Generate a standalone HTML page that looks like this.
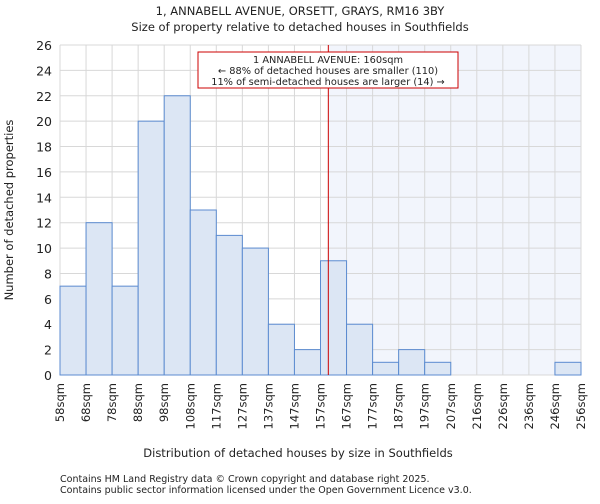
<!DOCTYPE html>
<html><head><meta charset="utf-8"><style>
body{margin:0;background:#fff;font-family:"DejaVu Sans","Liberation Sans",sans-serif;}
svg text{font-family:"DejaVu Sans","Liberation Sans",sans-serif;fill:#222}
</style></head><body>
<svg id="c" width="600" height="500" xmlns="http://www.w3.org/2000/svg">
<text x="300" y="15" text-anchor="middle" font-size="11.5">1, ANNABELL AVENUE, ORSETT, GRAYS, RM16 3BY</text>
<text x="300" y="31" text-anchor="middle" font-size="11.5">Size of property relative to detached houses in Southfields</text>
<text x="298" y="457" text-anchor="middle" font-size="11.5">Distribution of detached houses by size in Southfields</text>
<text transform="translate(13,210) rotate(-90)" text-anchor="middle" font-size="11.5">Number of detached properties</text>
<text x="60" y="482" font-size="9.5">Contains HM Land Registry data © Crown copyright and database right 2025.</text>
<text x="60" y="493" font-size="9.5">Contains public sector information licensed under the Open Government Licence v3.0.</text>
</svg>
<script>
const binLabels=["58sqm","68sqm","78sqm","88sqm","98sqm","108sqm","117sqm","127sqm","137sqm","147sqm","157sqm","167sqm","177sqm","187sqm","197sqm","207sqm","216sqm","226sqm","236sqm","246sqm","256sqm"];
const binEdges=[58,68,78,88,98,108,117,127,137,147,157,167,177,187,197,207,216,226,236,246,256];
const counts=[7,12,7,20,22,13,11,10,4,2,9,4,1,2,1,0,0,0,0,1];
const yTicks=[0,2,4,6,8,10,12,14,16,18,20,22,24,26];
const markerValue=160;
const annotationLines=["1 ANNABELL AVENUE: 160sqm","← 88% of detached houses are smaller (110)","11% of semi-detached houses are larger (14) →"];
const L=60,R=581,T=45,B=375,yMax=26;
const svg=document.getElementById('c');
const NS='http://www.w3.org/2000/svg';
function mk(t,a){const e=document.createElementNS(NS,t);for(const k in a)e.setAttribute(k,a[k]);svg.appendChild(e);return e;}
const bw=(R-L)/counts.length;
function xi(i){return L+i*bw;}
function xv(v){for(let i=0;i<binEdges.length-1;i++){if(v<=binEdges[i+1])return xi(i)+(v-binEdges[i])/(binEdges[i+1]-binEdges[i])*bw;}return R;}
function y(v){return B-v/yMax*(B-T);}
const mx=xv(markerValue);
let e=mk('rect',{x:mx,y:T,width:R-mx,height:B-T,fill:'#f2f5fc'});


yTicks.forEach(t=>{let g=mk('line',{x1:L,x2:R,y1:y(t),y2:y(t),stroke:'#d8d8d8','stroke-width':1});


let tx=mk('text',{x:L-8,y:y(t)+5,'text-anchor':'end','font-size':12.5});tx.textContent=t;

});
binLabels.forEach((lb,i)=>{let g=mk('line',{x1:xi(i),x2:xi(i),y1:T,y2:B,stroke:'#d8d8d8','stroke-width':1});


let tx=mk('text',{transform:`translate(${xi(i)+4},${B+8}) rotate(-90)`,'text-anchor':'end','font-size':11.5});tx.textContent=lb;

});
counts.forEach((c,i)=>{if(c<=0)return;let r=mk('rect',{x:xi(i),y:y(c),width:bw,height:B-y(c),fill:'#dce6f4',stroke:'#5b8bd0','stroke-width':1});

});
e=mk('line',{x1:mx,x2:mx,y1:T,y2:B,stroke:'#cc0000','stroke-width':1});


e=mk('rect',{x:198,y:52,width:260,height:36,fill:'#fff',stroke:'#cc0000','stroke-width':1});


annotationLines.forEach((s,i)=>{let t=mk('text',{x:328,y:63+i*11,'text-anchor':'middle','font-size':9.8});t.textContent=s;

});
</script>
</body></html>
